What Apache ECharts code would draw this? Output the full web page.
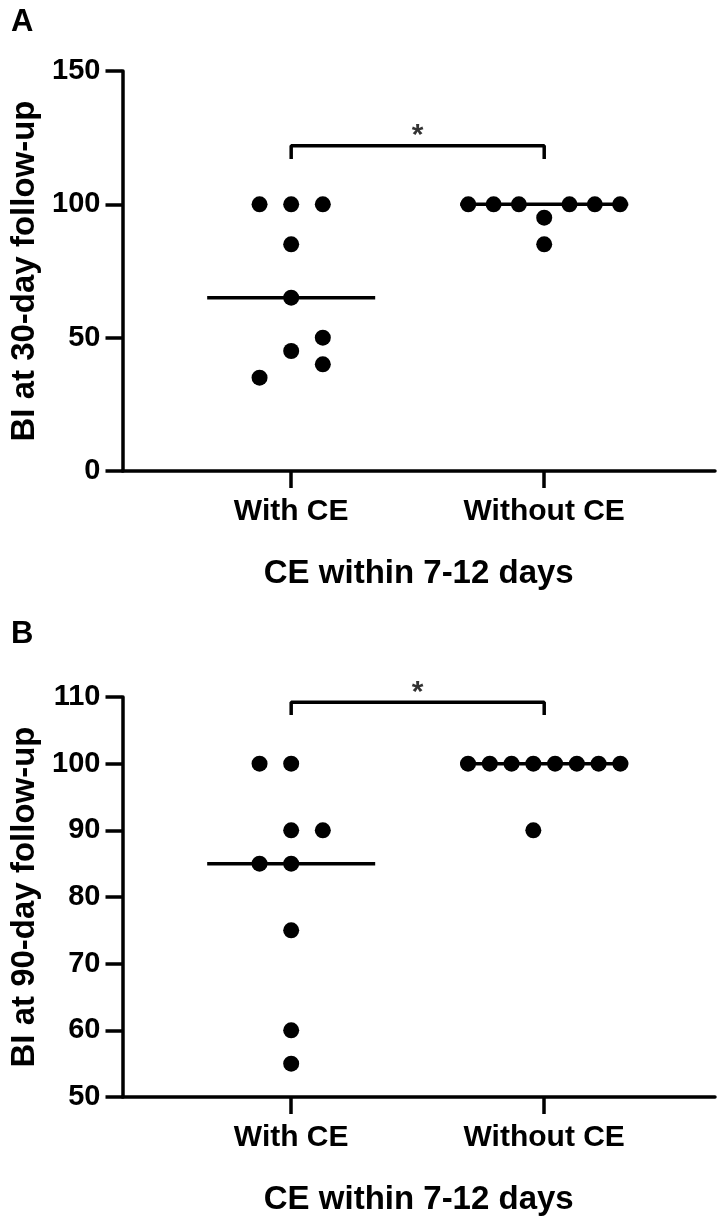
<!DOCTYPE html>
<html>
<head>
<meta charset="utf-8">
<script src="https://cdn.jsdelivr.net/npm/echarts@6/dist/echarts.min.js"></script>
<style>
html, body { margin: 0; padding: 0; background: #fff; }
#main { width: 722px; height: 1220px; }
</style>
</head>
<body>
<div id="main"></div>
<script>
var groups = ['With CE', 'Without CE'];

// A: BI at 30-day follow-up
var withA = [100, 100, 100, 85, 65, 50, 45, 40, 35];
var withoutA = [100, 100, 100, 100, 100, 100, 95, 85];
// B: BI at 90-day follow-up
var withB = [100, 100, 90, 90, 85, 85, 75, 60, 55];
var withoutB = [100, 100, 100, 100, 100, 100, 100, 100, 90];

// dot columns, like the scatter dot layout in the figure
var slotWithA = [-1, 0, 1, 0, 0, 1, 0, 1, -1];
var slotWithoutA = [-3, -2, -1, 1, 2, 3, 0, 0];
var slotWithB = [-1, 0, 0, 1, -1, 0, 0, 0, 0];
var slotWithoutB = [-3.5, -2.5, -1.5, -0.5, 0.5, 1.5, 2.5, 3.5, -0.5];

// significance bracket: [top, leg end]
var bracketA = [122, 117];
var bracketB = [109.2, 107.3];

var font = 'Liberation Sans, Arial, sans-serif';
var black = '#000';

function median(arr) {
  var s = arr.slice().sort(function (a, b) { return a - b; });
  var m = Math.floor(s.length / 2);
  return s.length % 2 ? s[m] : (s[m - 1] + s[m]) / 2;
}

function dots(values, slots, group, step) {
  return values.map(function (v, i) { return [group + slots[i] * step, v]; });
}

var option = {
  animation: false,
  backgroundColor: '#fff',
  title: [
    { text: 'A', left: 6, top: 2, textStyle: { fontFamily: font, fontSize: 31, fontWeight: 'bold', color: black } },
    { text: 'B', left: 6, top: 614, textStyle: { fontFamily: font, fontSize: 31, fontWeight: 'bold', color: black } }
  ],
  grid: [],
  xAxis: [],
  yAxis: [],
  series: []
};

function addPanel(i, top, yName, yMin, yMax, yInt, sets, bracket) {
  option.grid.push({ left: 117, top: top, width: 598, height: 400 });
  option.xAxis.push({
    gridIndex: i, type: 'value', min: 1 / 3, max: 2.675,
    axisLine: { onZero: false, lineStyle: { color: black, width: 3.5 } },
    axisTick: { customValues: [1, 2], length: 17, lineStyle: { color: black, width: 3.5 } },
    axisLabel: {
      customValues: [1, 2], margin: 41, verticalAlign: 'middle',
      formatter: function (v) { return groups[Math.round(v) - 1]; },
      fontFamily: font, fontSize: 30, fontWeight: 'bold', color: black
    },
    splitLine: { show: false },
    name: 'CE within 7-12 days', nameLocation: 'middle', nameGap: 103,
    nameTextStyle: { fontFamily: font, fontSize: 33, fontWeight: 'bold', color: black, verticalAlign: 'middle' }
  });
  option.yAxis.push({
    gridIndex: i, type: 'value', min: yMin, max: yMax, interval: yInt,
    axisLine: { show: true, onZero: false, lineStyle: { color: black, width: 3.5 } },
    axisTick: { show: true, length: 17, lineStyle: { color: black, width: 3.5 } },
    axisLabel: { margin: 22, fontFamily: font, fontSize: 29, fontWeight: 'bold', color: black },
    splitLine: { show: false },
    name: yName, nameLocation: 'middle', nameGap: 98,
    nameTextStyle: { fontFamily: font, fontSize: 33, fontWeight: 'bold', color: black, verticalAlign: 'middle' }
  });

  sets.forEach(function (s) {
    var med = median(s.values);
    option.series.push({
      type: 'line', xAxisIndex: i, yAxisIndex: i, symbol: 'none', silent: true,
      lineStyle: { color: black, width: 3.5 },
      data: [[s.group - 0.332, med], [s.group + 0.332, med]]
    });
    option.series.push({
      type: 'scatter', xAxisIndex: i, yAxisIndex: i, symbolSize: 16, clip: false,
      itemStyle: { color: black, opacity: 1 },
      data: dots(s.values, s.slots, s.group, s.step)
    });
  });

  option.series.push({
    type: 'line', xAxisIndex: i, yAxisIndex: i, symbol: 'none', silent: true, clip: false,
    lineStyle: { color: black, width: 3.5 },
    data: [[1, bracket[1]], [1, bracket[0]], [2, bracket[0]], [2, bracket[1]]]
  });
  option.series.push({
    type: 'scatter', xAxisIndex: i, yAxisIndex: i, symbolSize: 0, clip: false, silent: true,
    data: [[1.5, bracket[0]]],
    label: {
      show: true, position: 'inside', offset: [0, -10], formatter: '*',
      fontFamily: font, fontSize: 30, fontWeight: 'bold', color: black
    }
  });
}

addPanel(0, 71, 'BI at 30-day follow-up', 0, 150, 50, [
  { group: 1, values: withA, slots: slotWithA, step: 0.125 },
  { group: 2, values: withoutA, slots: slotWithoutA, step: 0.1 }
], bracketA);

addPanel(1, 697, 'BI at 90-day follow-up', 50, 110, 10, [
  { group: 1, values: withB, slots: slotWithB, step: 0.125 },
  { group: 2, values: withoutB, slots: slotWithoutB, step: 0.086 }
], bracketB);

var myChart = echarts.init(document.getElementById('main'));
myChart.setOption(option);
</script>
</body>
</html>
